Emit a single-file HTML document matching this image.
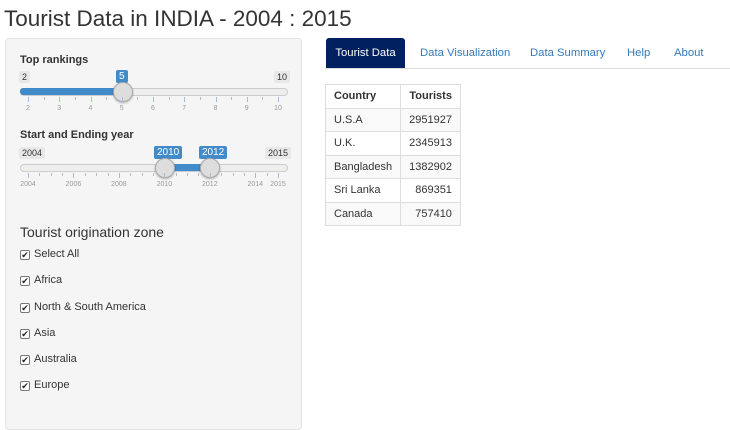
<!DOCTYPE html>
<html><head><meta charset="utf-8"><style>
body{margin:0;width:730px;height:413px;overflow:hidden;background:#fff;font-family:"Liberation Sans",Arial,sans-serif;color:#333;position:relative}
.a{position:absolute}
.badge{position:absolute;font-size:9px;padding:1px 3px;border-radius:2px;background:#e8e8e8;color:#333;line-height:10px}
.badge.b{background:#428bca;color:#fff;font-size:10px;line-height:11px}
.track{position:absolute;height:6px;background:#eee;border:1px solid #ccc;border-radius:4px}
.fill{position:absolute;height:7px;background:#428bca;border-radius:3px}
.handle{position:absolute;width:18px;height:18px;border-radius:50%;background:#ddd;border:1px solid #aaa;box-shadow:0 1px 2px rgba(0,0,0,.3)}
.tick{position:absolute;width:1px;background:#9cbfe0}
.tl{position:absolute;font-size:7px;color:#999;transform:translateX(-50%)}
.cb{position:absolute;left:20px;width:8px;height:8px;border:1px solid #777;border-radius:2px;background:#fff;font-size:9px;line-height:8px;text-align:center;color:#222}
.cl{position:absolute;left:34px;font-size:11px}
.tab{position:absolute;top:38px;height:30px;line-height:30px;font-size:11.3px;color:#337ab7}
table{position:absolute;left:325px;top:84px;border-collapse:collapse;font-size:11px}
td,th{border:1px solid #ddd;height:22.5px;padding:0 8px}
th{text-align:left;font-weight:bold}
tr:nth-child(even) td{background:#f9f9f9}
td:nth-child(2),th:nth-child(2){text-align:right}
</style></head><body>
<div class="a" style="left:4px;top:6px;font-size:22.5px;color:#333">Tourist Data in INDIA - 2004 : 2015</div>
<div class="a" style="left:5px;top:38px;width:295px;height:390px;background:#f5f5f5;border:1px solid #e3e3e3;border-radius:4px"></div>

<div class="a" style="left:20px;top:54px;font-size:11px;font-weight:bold">Top rankings</div>
<div class="badge" style="left:19px;top:71px">2</div>
<div class="badge b" style="left:116px;top:70px">5</div>
<div class="badge" style="left:274px;top:71px">10</div>
<div class="track" style="left:20px;top:88px;width:266px"></div>
<div class="fill" style="left:20px;top:88px;width:102px"></div>
<div class="handle" style="left:113px;top:82px"></div>
<div id="t1"></div>

<div class="a" style="left:20px;top:129px;font-size:11px;font-weight:bold">Start and Ending year</div>
<div class="badge" style="left:19px;top:147px">2004</div>
<div class="badge b" style="left:154px;top:146px">2010</div>
<div class="badge b" style="left:199px;top:146px">2012</div>
<div class="badge" style="left:265px;top:147px">2015</div>
<div class="track" style="left:20px;top:164px;width:266px"></div>
<div class="fill" style="left:164px;top:164px;width:45px"></div>
<div class="handle" style="left:155px;top:158px"></div>
<div class="handle" style="left:200px;top:158px"></div>
<div id="t2"></div>

<div class="a" style="left:20px;top:224px;font-size:14px">Tourist origination zone</div>
<div class="cb" style="top:250px">✔</div><div class="cl" style="top:248px">Select All</div>
<div class="cb" style="top:276px">✔</div><div class="cl" style="top:274px">Africa</div>
<div class="cb" style="top:303px">✔</div><div class="cl" style="top:301px">North &amp; South America</div>
<div class="cb" style="top:329px">✔</div><div class="cl" style="top:327px">Asia</div>
<div class="cb" style="top:355px">✔</div><div class="cl" style="top:353px">Australia</div>
<div class="cb" style="top:381px">✔</div><div class="cl" style="top:379px">Europe</div>

<div class="a" style="left:325px;top:68px;width:405px;height:1px;background:#ddd"></div>
<div class="tab" style="left:326px;width:79px;background:#002060;color:#fff;text-align:center;border-radius:3px 3px 0 0">Tourist Data</div>
<div class="tab" style="left:420px">Data Visualization</div>
<div class="tab" style="left:530px">Data Summary</div>
<div class="tab" style="left:627px">Help</div>
<div class="tab" style="left:674px">About</div>

<table>
<tr><th style="width:58px">Country</th><th>Tourists</th></tr>
<tr><td>U.S.A</td><td>2951927</td></tr>
<tr><td>U.K.</td><td>2345913</td></tr>
<tr><td>Bangladesh</td><td>1382902</td></tr>
<tr><td>Sri Lanka</td><td>869351</td></tr>
<tr><td>Canada</td><td>757410</td></tr>
</table>
<script>
function ticks(id,min,max,top,major,labels){
  const c=document.getElementById(id);
  const n=(max-min)*2;
  for(let i=0;i<=n;i++){
    const v=min+i/2, x=28+(v-min)/(max-min)*250;
    const t=document.createElement('div');t.className='tick';
    
    
    const isMaj=major(v);
    t.style.left=x+'px';t.style.top=top+'px';t.style.height=(isMaj?5:3)+'px';
    if(!isMaj)t.style.background='#bbb';
    c.appendChild(t);
  }
  labels.forEach(v=>{
    const l=document.createElement('div');l.className='tl';
    
    
    l.style.left=(28+(v-min)/(max-min)*250)+'px';l.style.top=(top+8)+'px';l.textContent=v;c.appendChild(l);
  });
}
ticks('t1',2,10,97,v=>Number.isInteger(v),[2,3,4,5,6,7,8,9,10]);
ticks('t2',2004,2015,173,v=>Number.isInteger(v)&&(v%2==0||v==2015),[2004,2006,2008,2010,2012,2014,2015]);
</script>
</body></html>
